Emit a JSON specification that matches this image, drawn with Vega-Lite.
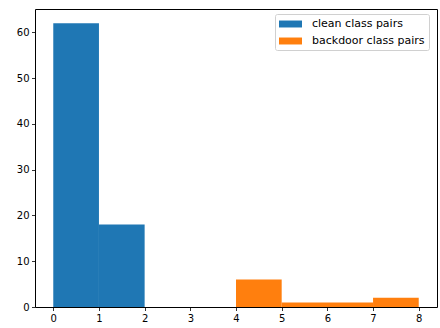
{
  "$schema": "https://vega.github.io/schema/vega-lite/v6.json",
  "width": 402,
  "height": 298,
  "autosize": {"type": "none"},
  "padding": {"left": 35, "top": 9, "right": 3, "bottom": 21},
  "background": "white",
  "config": {
    "font": "DejaVu Sans",
    "view": {"stroke": "black", "strokeWidth": 1},
    "axis": {
      "grid": false,
      "domain": false,
      "tickColor": "black",
      "tickSize": 3.5,
      "tickWidth": 0.8,
      "labelColor": "black",
      "labelFont": "DejaVu Sans",
      "labelFontSize": 10,
      "labelPadding": 2.5,
      "title": null
    }
  },
  "data": {
    "values": [
      {"x": 0, "x2": 1, "count": 62, "series": "clean class pairs"},
      {"x": 1, "x2": 2, "count": 18, "series": "clean class pairs"},
      {"x": 4, "x2": 5, "count": 6, "series": "backdoor class pairs"},
      {"x": 5, "x2": 7, "count": 1, "series": "backdoor class pairs"},
      {"x": 7, "x2": 8, "count": 2, "series": "backdoor class pairs"}
    ]
  },
  "mark": {"type": "bar", "stroke": null},
  "encoding": {
    "x": {
      "field": "x",
      "type": "quantitative",
      "scale": {"domain": [-0.4, 8.4], "nice": false, "zero": false},
      "axis": {"values": [0, 1, 2, 3, 4, 5, 6, 7, 8], "format": "d"}
    },
    "x2": {"field": "x2"},
    "y": {
      "field": "count",
      "type": "quantitative",
      "scale": {"domain": [0, 65.1], "nice": false},
      "axis": {"values": [0, 10, 20, 30, 40, 50, 60], "format": "d"}
    },
    "y2": {"datum": 0},
    "color": {
      "field": "series",
      "type": "nominal",
      "scale": {
        "domain": ["clean class pairs", "backdoor class pairs"],
        "range": ["#1f77b4", "#ff7f0e"]
      },
      "legend": {
        "title": null,
        "orient": "none",
        "legendX": 240,
        "legendY": 5,
        "padding": 4,
        "strokeColor": "#d0d0d0",
        "fillColor": "white",
        "cornerRadius": 2,
        "symbolType": "M-1,-0.58H2.83V0.58H-1Z",
        "symbolSize": 144,
        "symbolStrokeWidth": 0,
        "symbolOpacity": 1,
        "labelFont": "DejaVu Sans",
        "labelFontSize": 11,
        "labelColor": "black",
        "labelOffset": 21,
        "rowPadding": 6,
        "labelLimit": 300
      }
    }
  }
}
